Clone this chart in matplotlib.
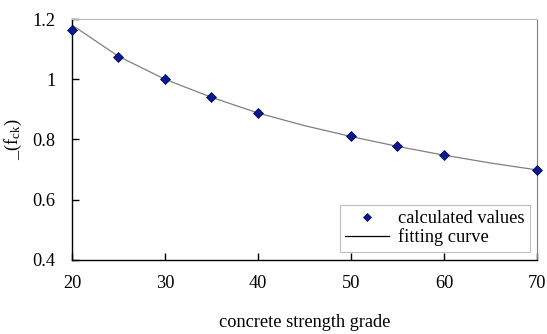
import matplotlib.pyplot as plt

# calculated points
grade = [20, 25, 30, 35, 40, 50, 55, 60, 70]
calc_vals = [1.163, 1.074, 1.0, 0.941, 0.889, 0.81, 0.778, 0.749, 0.699]

# fitting curve samples
fit_x = [20, 25, 30, 35, 40, 45, 50, 55, 60, 65, 70]
fit_y = [1.18, 1.076, 1.0, 0.94, 0.888, 0.846, 0.81, 0.777, 0.748, 0.722, 0.699]

x_ticks = [20, 30, 40, 50, 60, 70]
y_ticks = [0.4, 0.6, 0.8, 1.0, 1.2]
y_ticklabels = ["0.4", "0.6", "0.8", "1", "1.2"]

plt.rcParams['font.family'] = ['Liberation Serif', 'DejaVu Serif']
plt.rcParams['mathtext.fontset'] = 'custom'
plt.rcParams['mathtext.rm'] = 'Liberation Serif'
plt.rcParams['mathtext.it'] = 'Liberation Serif'

fs = 13.2

fig = plt.figure(figsize=(5.47, 3.34), dpi=100)
ax = fig.add_axes([0.1316, 0.2216, 0.8501, 0.7215])

fit_line, = ax.plot(fit_x, fit_y, color='#808080', lw=0.9, zorder=2)
pts, = ax.plot(grade, calc_vals, linestyle='none', marker='D', ms=5.2,
               color='#0a1a8a', mec='#000060', mew=0.5,
               zorder=3, clip_on=False)

ax.set_xlim(20, 70)
ax.set_ylim(0.4, 1.2)
ax.set_xticks(x_ticks)
ax.set_yticks(y_ticks)
ax.set_yticklabels(y_ticklabels)
ax.tick_params(axis='both', direction='in', length=5, width=1, labelsize=fs)
ax.tick_params(axis='y', pad=12)
ax.tick_params(axis='x', pad=11)

for s in ['left', 'bottom']:
    ax.spines[s].set_color('black')
    ax.spines[s].set_linewidth(1.0)
ax.spines['top'].set_color('#b8b8b8')
ax.spines['right'].set_color('#808080')

ax.set_xlabel('concrete strength grade', fontsize=fs, labelpad=16)
ax.set_ylabel('_(f$_{\\rm ck}$)', fontsize=fs, labelpad=6)

leg = ax.legend([pts, fit_line], ['calculated values', 'fitting curve'],
                loc='lower right', bbox_to_anchor=(0.986, 0.035),
                fontsize=fs, frameon=True, fancybox=False,
                handlelength=2.4, handletextpad=0.5, borderpad=0.3,
                labelspacing=0.05, borderaxespad=0, markerscale=0.8)
leg.get_frame().set_edgecolor('#b0b0b0')
leg.get_frame().set_linewidth(0.8)
leg.get_lines()[1].set_color('black')

fig.savefig('out.png', dpi=100)
